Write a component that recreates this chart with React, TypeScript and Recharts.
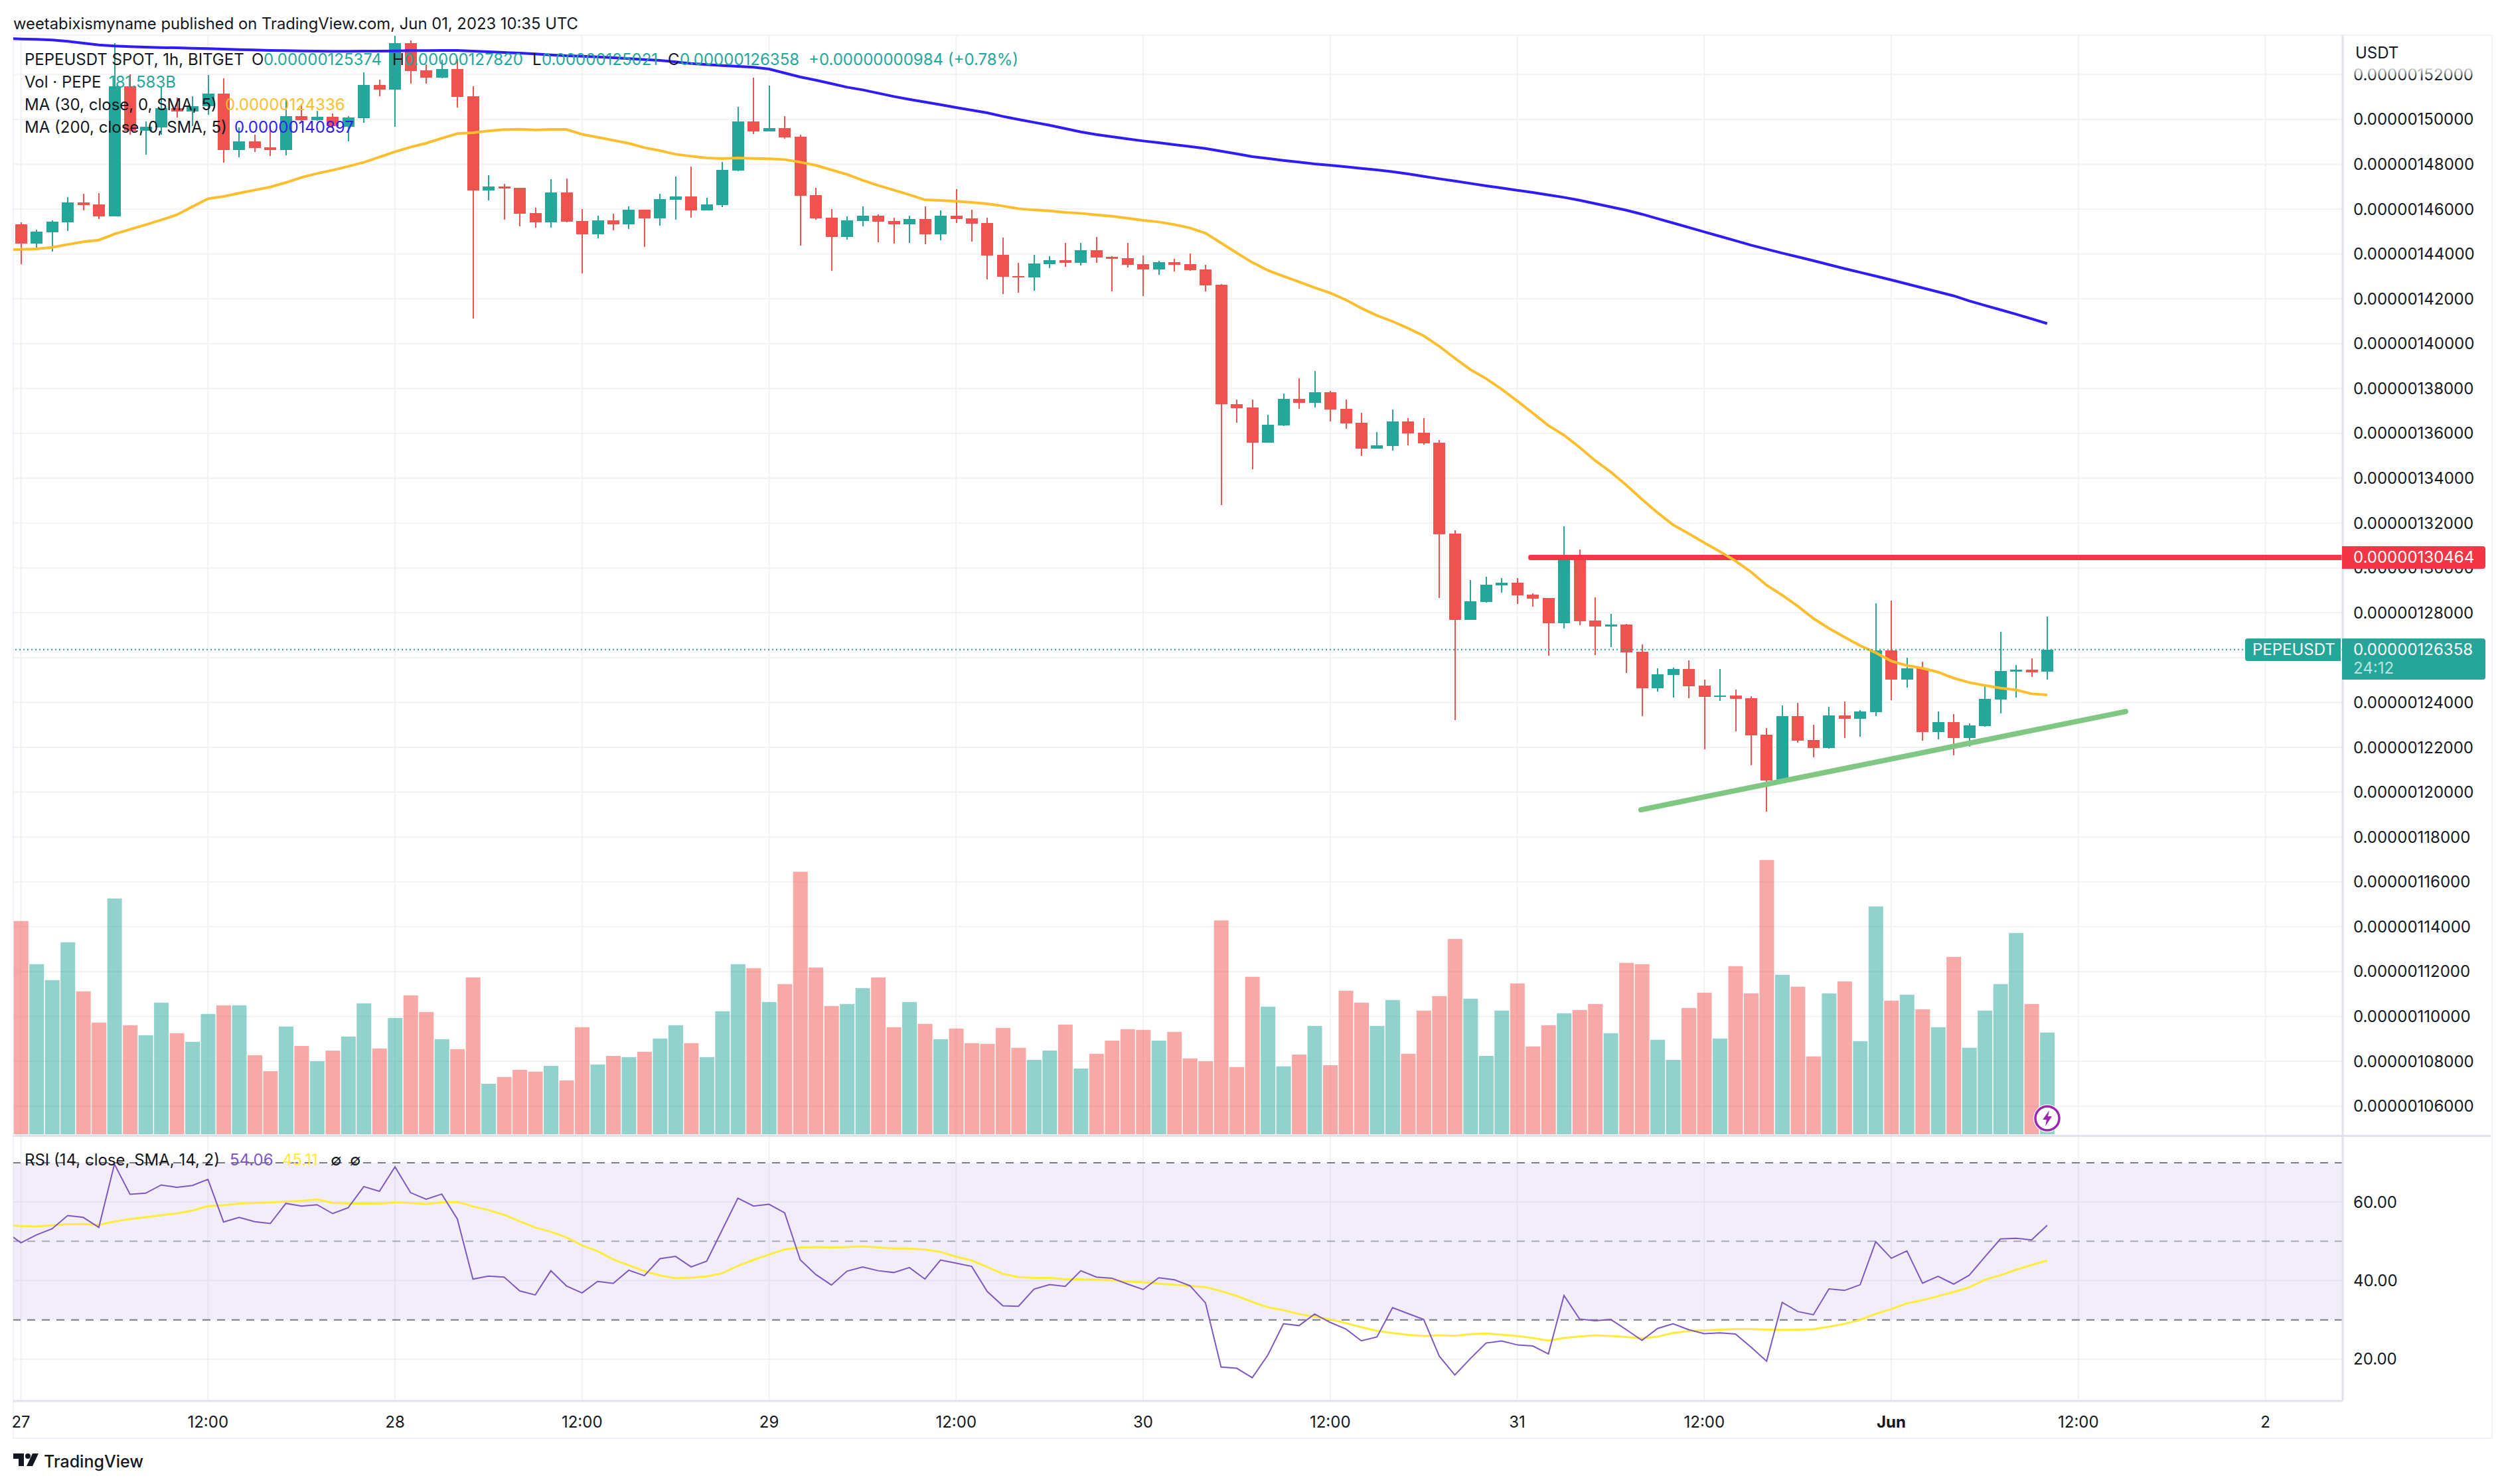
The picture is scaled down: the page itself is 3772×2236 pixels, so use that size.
import { Bar, CartesianGrid, Cell, ComposedChart, Line, ReferenceArea, ReferenceLine, XAxis, YAxis } from 'recharts'

// prices are in units of 1e-11 USDT, so 152000 reads 0.00000152000
const opens = [
    145310, 144471, 144975, 145419, 146287, 146208, 145685, 151476, 149503, 149650,
    150489, 150361, 150588, 151150, 148644, 149009, 148753, 148644, 150144, 149966,
    150114, 149670, 150065, 151525, 151338, 153399, 152186, 151870, 152245, 151032,
    146839, 147007, 146948, 145823, 145419, 146740, 145468, 144886, 145498, 145320,
    145971, 145586, 146415, 146563, 145941, 146178, 147717, 149907, 149463, 149611,
    149226, 146622, 145616, 144758, 145468, 145705, 145468, 145320, 145557, 144876,
    145705, 145586, 145379, 143959, 143012, 142952, 143544, 143722, 143603, 144166,
    143870, 143811, 143544, 143307, 143633, 143544, 143307, 142624, 137312, 137154,
    135591, 136350, 137539, 137369, 137833, 137097, 136474, 135330, 135444, 136531,
    136021, 135580, 131525, 127685, 128489, 129226, 129339, 128806, 128658, 127533,
    130404, 127652, 127385, 127474, 126261, 124633, 125225, 125491, 124752, 124248,
    124308, 124189, 122562, 120520, 123390, 122325, 121970, 123420, 123272, 123568,
    126320, 125018, 125521, 122680, 123124, 122413, 122946, 124130, 125373, 125462,
    125374,
]
const highs = [
    145409, 145083, 145488, 146523, 146671, 146701, 153389, 151998, 149917, 151426,
    150982, 151032, 151969, 151821, 149650, 149305, 149700, 150884, 150686, 150390,
    150262, 150144, 152097, 151772, 153715, 153518, 152462, 152659, 152679, 151476,
    147510, 147125, 146960, 146060, 147332, 147362, 146001, 145705, 145793, 146119,
    145985, 146681, 147451, 147895, 146504, 148102, 150558, 151860, 151505, 150144,
    149315, 146948, 146001, 145675, 146119, 145764, 145616, 145705, 146119, 145941,
    146888, 145971, 145616, 144728, 143603, 143959, 143899, 144491, 144491, 144758,
    143899, 144491, 143929, 143692, 143781, 144018, 143514, 142670, 137505, 137505,
    136825, 137777, 138456, 138773, 137890, 137505, 136916, 136055, 137063, 136678,
    136678, 135704, 131672, 129452, 129599, 129542, 129542, 128865, 128670, 131854,
    130819, 128688, 127948, 127504, 126586, 125521, 125551, 125876, 125018, 125491,
    124574, 124278, 122857, 123864, 123982, 123005, 123804, 124041, 123657, 128421,
    128540, 125995, 125817, 123597, 123479, 123065, 124781, 127149, 125669, 125965,
    127820,
]
const lows = [
    143554, 144225, 144116, 145024, 145951, 145557, 145685, 149325, 148437, 149325,
    150095, 149700, 150193, 148072, 148319, 148556, 148378, 148398, 149848, 149947,
    149650, 149029, 149848, 151032, 149670, 151594, 151594, 151831, 150529, 141117,
    146385, 145527, 145231, 145172, 145172, 145409, 143130, 144698, 145053, 145113,
    144314, 145261, 145527, 145616, 145930, 146089, 147700, 149345, 149450, 149138,
    144373, 145527, 143248, 144639, 145231, 144521, 144462, 144491, 144432, 144610,
    145379, 144550, 142863, 142212, 142272, 142360, 143367, 143426, 143485, 143603,
    142331, 143396, 142124, 143071, 143219, 143248, 142331, 132816, 136485, 134413,
    135580, 136327, 137097, 137165, 136531, 136214, 134990, 135320, 135228, 135466,
    135489, 128671, 123212, 127670, 128444, 128908, 128387, 128273, 126083, 127297,
    127445, 126113, 126468, 125314, 123390, 124485, 124219, 124189, 121910, 124071,
    122709, 121200, 119128, 120500, 122206, 121555, 121950, 122413, 122473, 123390,
    124100, 124663, 122295, 122355, 121644, 122029, 122930, 123509, 124219, 125136,
    125021,
]
const closes = [
    144471, 144994, 145428, 146287, 146188, 145685, 151476, 149503, 149670, 150489,
    150361, 150588, 151150, 148644, 149009, 148733, 148644, 150144, 149966, 150114,
    149700, 150085, 151525, 151338, 153399, 152166, 151870, 152245, 151012, 146839,
    147007, 146928, 145803, 145419, 146740, 145448, 144886, 145498, 145320, 145971,
    145586, 146444, 146563, 145941, 146208, 147747, 149907, 149463, 149611, 149197,
    146592, 145586, 144758, 145498, 145705, 145438, 145320, 145557, 144876, 145705,
    145557, 145350, 143929, 142982, 142952, 143574, 143722, 143603, 144166, 143840,
    143781, 143514, 143307, 143633, 143514, 143278, 142597, 137312, 137131, 135591,
    136384, 137539, 137369, 137833, 137063, 136452, 135330, 135466, 136531, 136010,
    135557, 131513, 127685, 128512, 129248, 129339, 128784, 128628, 127533, 130404,
    127622, 127385, 127474, 126231, 124633, 125255, 125491, 124722, 124248, 124308,
    124160, 122532, 120520, 123390, 122295, 121970, 123420, 123272, 123597, 126320,
    125018, 125521, 122680, 123124, 122413, 122976, 124160, 125403, 125462, 125343,
    126358,
]
// volume in billions of PEPE
const volumes = [
    381.0, 303.8, 275.3, 343.0, 255.2, 199.4, 421.3, 194.6, 176.8, 235.0,
    180.4, 165.0, 214.8, 230.2, 230.2, 141.2, 112.7, 192.3, 157.8, 130.5,
    149.5, 174.5, 233.8, 153.1, 207.7, 248.0, 218.4, 169.7, 151.9, 280.1,
    90.2, 102.1, 115.1, 111.6, 122.2, 96.1, 191.1, 124.6, 140.0, 137.7,
    147.2, 170.9, 194.6, 162.6, 137.7, 219.6, 303.8, 296.7, 236.2, 268.2,
    468.8, 297.9, 229.1, 232.6, 261.1, 280.1, 191.1, 236.2, 197.0, 169.7,
    188.7, 162.6, 161.4, 189.9, 154.3, 132.9, 149.5, 195.8, 117.5, 143.6,
    167.3, 187.5, 186.3, 167.3, 182.8, 135.3, 130.5, 382.2, 119.9, 281.3,
    227.9, 121.1, 142.4, 193.5, 123.4, 256.4, 235.0, 193.5, 239.7, 143.6,
    220.7, 246.9, 348.9, 242.1, 140.0, 220.7, 269.4, 156.7, 194.6, 216.0,
    221.9, 232.6, 180.4, 306.2, 303.8, 168.5, 132.9, 225.5, 252.8, 170.9,
    300.3, 251.6, 490.1, 284.8, 263.5, 138.9, 251.6, 273.0, 166.2, 407.1,
    238.5, 249.2, 223.1, 191.1, 316.9, 154.3, 220.7, 268.2, 359.6, 232.6,
    181.583,
]
// the four lines below start one bar earlier, at the bar cut off by the left edge
const ma30 = [
    144175, 144205, 144225, 144294, 144422, 144541, 144620, 144886, 145093, 145300, 145517,
    145744, 146109, 146464, 146563, 146711, 146849, 146987, 147184, 147411, 147589,
    147737, 147905, 148082, 148319, 148556, 148763, 148940, 149157, 149365, 149404,
    149483, 149542, 149562, 149532, 149552, 149552, 149335, 149207, 149069, 148930,
    148743, 148605, 148447, 148358, 148280, 148250, 148280, 148260, 148240, 148210,
    148092, 147954, 147747, 147549, 147283, 147056, 146849, 146642, 146415, 146385,
    146346, 146296, 146237, 146139, 146020, 145961, 145922, 145853, 145813, 145744,
    145685, 145596, 145498, 145428, 145310, 145162, 144925, 144491, 144047, 143623,
    143268, 143012, 142755, 142498, 142262, 141956, 141582, 141254, 140993, 140687,
    140348, 139883, 139351, 138841, 138445, 137969, 137448, 136905, 136350, 135919,
    135376, 134787, 134277, 133688, 133065, 132465, 131923, 131529, 131124, 130730,
    130315, 129822, 129230, 128786, 128293, 127750, 127307, 126912, 126537, 126221,
    125847, 125649, 125531, 125353, 125087, 124890, 124761, 124643, 124564, 124387,
    124336,
]
const ma200 = [
    153606, 153587, 153567, 153537, 153478, 153399, 153320, 153271, 153241, 153222, 153202,
    153192, 153172, 153153, 153133, 153113, 153094, 153074, 153064, 153054, 153044,
    153034, 153034, 153044, 153044, 153054, 153064, 153064, 153074, 153074, 153044,
    153015, 152985, 152955, 152916, 152877, 152837, 152817, 152788, 152748, 152709,
    152669, 152630, 152561, 152492, 152442, 152403, 152364, 152324, 152245, 152068,
    151890, 151752, 151594, 151436, 151318, 151170, 151022, 150894, 150775, 150657,
    150529, 150410, 150292, 150134, 149996, 149868, 149739, 149591, 149443, 149325,
    149226, 149128, 149039, 148960, 148871, 148792, 148704, 148585, 148467, 148339,
    148260, 148171, 148092, 148013, 147954, 147885, 147816, 147747, 147668, 147569,
    147461, 147352, 147253, 147145, 147036, 146938, 146839, 146740, 146632, 146523,
    146395, 146247, 146099, 145951, 145774, 145576, 145379, 145182, 144984, 144787,
    144590, 144392, 144215, 144037, 143870, 143702, 143524, 143347, 143179, 143012,
    142844, 142666, 142489, 142311, 142134, 141907, 141709, 141512, 141315, 141107,
    140897,
]
const rsi = [
    52.5, 49.61, 51.63, 53.19, 56.54, 56.08, 53.54, 69.64, 61.96, 62.25, 64.33,
    63.75, 64.21, 65.77, 54.92, 56.08, 54.98, 54.52, 59.65, 58.96, 59.31,
    57.06, 58.56, 63.93, 62.71, 68.95, 62.37, 60.69, 62.02, 55.67, 40.38,
    41.13, 40.9, 37.38, 36.34, 42.51, 38.64, 36.86, 39.8, 39.28, 42.63,
    41.24, 45.57, 46.15, 43.49, 44.94, 52.96, 60.98, 58.96, 59.42, 57.23,
    45.28, 41.53, 38.88, 42.4, 43.44, 42.51, 42.05, 43.32, 40.38, 45.23,
    44.42, 43.61, 37.2, 33.57, 33.45, 37.84, 38.99, 38.53, 42.51, 40.9,
    40.61, 39.11, 37.72, 40.72, 40.2, 38.7, 34.32, 17.98, 17.69, 15.27,
    21.04, 29.0, 28.54, 31.49, 29.35, 27.68, 24.68, 25.66, 33.1, 31.6,
    30.1, 20.75, 15.96, 20.17, 24.1, 24.62, 23.64, 23.35, 21.33, 36.22,
    30.22, 29.76, 30.1, 27.5, 24.79, 27.79, 29.0, 27.5, 26.47, 26.7,
    26.41, 23.06, 19.48, 34.43, 32.12, 31.31, 37.89, 37.49, 38.93, 49.9,
    45.69, 47.53, 39.34, 41.07, 39.11, 41.36, 46.03, 50.59, 50.77, 50.36,
    54.06,
]
const rsiMa = [
    54.06, 53.88, 53.77, 54.06, 54.34, 54.4, 54.17, 55.04, 55.67, 56.13, 56.65,
    57.12, 57.81, 58.96, 59.19, 59.6, 59.77, 59.89, 60.12, 60.29, 60.69,
    59.77, 59.6, 59.65, 59.54, 59.94, 59.77, 59.48, 59.94, 60.0, 58.9,
    57.92, 56.77, 55.09, 53.48, 52.44, 51.0, 48.98, 47.48, 45.4, 43.9,
    42.4, 41.3, 40.61, 40.78, 41.07, 41.88, 43.72, 45.28, 46.61, 47.94,
    48.4, 48.51, 48.46, 48.51, 48.69, 48.46, 48.17, 48.17, 47.88, 47.3,
    46.09, 45.11, 43.49, 41.7, 40.9, 40.66, 40.66, 40.38, 40.32, 40.2,
    40.09, 39.74, 39.57, 39.22, 38.93, 38.59, 38.36, 37.32, 36.11, 34.55,
    33.22, 32.47, 31.49, 30.85, 30.1, 29.18, 28.14, 27.22, 26.64, 26.18,
    25.89, 26.12, 25.95, 26.35, 26.52, 26.23, 25.89, 25.37, 24.73, 25.37,
    25.77, 26.06, 25.89, 25.66, 25.31, 25.72, 26.64, 27.16, 27.33, 27.5,
    27.68, 27.68, 27.56, 27.45, 27.5, 27.62, 28.26, 29.0, 29.99, 31.54,
    32.76, 34.2, 35.01, 36.05, 37.09, 38.3, 40.2, 41.36, 42.74, 43.96,
    45.11,
]

const priceTicks = [
    106000, 108000, 110000, 112000, 114000, 116000, 118000, 120000, 122000, 124000, 126000, 128000,
    130000, 132000, 134000, 136000, 138000, 140000, 142000, 144000, 146000, 148000, 150000, 152000,
]
const rsiTicks = [20, 40, 60]
const rsiBands = [70, 50, 30]
const timeTicks = [0, 12, 24, 36, 48, 60, 72, 84, 96, 108, 120, 132, 144]
const timeLabels = ['27', '12:00', '28', '12:00', '29', '12:00', '30', '12:00', '31', '12:00', 'Jun', '12:00', '2']

// drawings on the chart
const resistance = [{ i: 96.87, price: 130464 }, { i: 148.96, price: 130464 }]
const support = [{ i: 103.94, price: 119217 }, { i: 135.03, price: 123597 }]

const lastClose = 126358

const table = ma30.map((_, j) => {
    const c = j - 1
    return {
        i: c,
        open: opens[c],
        high: highs[c],
        low: lows[c],
        close: closes[c],
        range: c < 0 ? null : [lows[c], highs[c]],
        volume: volumes[c],
        ma30: ma30[j],
        ma200: ma200[j],
        rsi: rsi[j],
        rsiMa: rsiMa[j],
    }
})

const UP = '#26a69a'
const DOWN = '#ef5350'
const FONT = 'Inter, "Liberation Sans", sans-serif'
const TEXT = '#131722'
const GRID = '#f2f2f4'
const xDomain: [number, number] = [-0.49, 148.96]

function Candle(props: any) {
    const { x, y, width, height, payload } = props
    if (!payload || payload.open == null) return null
    const perUnit = height / (payload.high - payload.low)
    const top = y + (payload.high - Math.max(payload.open, payload.close)) * perUnit
    const bottom = y + (payload.high - Math.min(payload.open, payload.close)) * perUnit
    const color = payload.close >= payload.open ? UP : DOWN
    return (
        <g shapeRendering="crispEdges">
            <rect x={x + width / 2 - 1} y={y} width={2} height={height} fill={color} />
            <rect x={x} y={top} width={width} height={Math.max(bottom - top, 2)} fill={color} />
        </g>
    )
}

function TimeTick(props: any) {
    const { x, y, payload } = props
    const label = timeLabels[timeTicks.indexOf(payload.value)]
    return (
        <text x={x} y={y + 29} textAnchor="middle" dominantBaseline="central" fontFamily={FONT} fontSize={24}
            fontWeight={label === 'Jun' ? 700 : 400} fill={TEXT}>
            {label}
        </text>
    )
}

function Label({ left, top, color = TEXT, size = 24, children }: any) {
    return (
        <span style={{ position: 'absolute', left, top, color, fontSize: size, lineHeight: '30px', whiteSpace: 'nowrap' }}>
            {children}
        </span>
    )
}

function Box({ left, top, width, height, color, style }: any) {
    return <div style={{ position: 'absolute', left, top, width, height, background: color, ...style }} />
}

export default function App() {
    return (
        <div style={{ position: 'absolute', left: 0, top: 0, width: 3772, height: 2236, background: '#fff', fontFamily: FONT, fontSize: 24, overflow: 'hidden' }}>
            <div style={{ position: 'absolute', left: 19, top: 52, width: 3732, height: 2112, border: '2px solid #f0f3fa' }} />

            <div style={{ position: 'absolute', left: 0, top: 0 }}>
                <ComposedChart width={3752} height={1711} data={table} margin={{ top: 53, right: 0, bottom: 0, left: 20 }}>
                    <CartesianGrid xAxisId="candle" yAxisId="price" stroke={GRID} strokeWidth={2}
                        horizontalValues={priceTicks} verticalValues={timeTicks} />
                    <XAxis xAxisId="candle" dataKey="i" type="number" domain={xDomain} allowDataOverflow hide />
                    <XAxis xAxisId="vol" dataKey="i" type="number" domain={xDomain} allowDataOverflow hide />
                    {/* drawings get their own axis, their x values must not shrink the candle band */}
                    <XAxis xAxisId="draw" dataKey="i" type="number" domain={xDomain} allowDataOverflow hide />
                    <YAxis yAxisId="price" orientation="right" width={223} domain={[104689, 153755]} allowDataOverflow
                        ticks={priceTicks} interval={0} tickLine={false} tickSize={0} tickMargin={16}
                        axisLine={{ stroke: '#e0e3eb', strokeWidth: 3 }}
                        tick={{ fill: TEXT, fontSize: 24, fontFamily: FONT, textAnchor: 'start' }}
                        tickFormatter={(v: number) => (v / 1e11).toFixed(11)} />
                    <YAxis yAxisId="vol" hide domain={[-2.4, 1963.5]} allowDataOverflow />

                    <Bar xAxisId="vol" yAxisId="vol" dataKey="volume" barSize={22} isAnimationActive={false}>
                        {table.map((row) => (
                            <Cell key={row.i} fill={row.close >= row.open ? UP : DOWN} fillOpacity={0.5} />
                        ))}
                    </Bar>
                    <Line xAxisId="draw" yAxisId="price" data={resistance} dataKey="price" stroke="#f23645" strokeWidth={8}
                        strokeLinecap="round" dot={false} isAnimationActive={false} />
                    <Line xAxisId="draw" yAxisId="price" data={support} dataKey="price" stroke="#81c784" strokeWidth={8}
                        strokeLinecap="round" dot={false} isAnimationActive={false} />
                    <Line xAxisId="candle" yAxisId="price" dataKey="ma200" stroke="#2e1cff" strokeWidth={4} dot={false} isAnimationActive={false} />
                    <Line xAxisId="candle" yAxisId="price" dataKey="ma30" stroke="#fdbe2d" strokeWidth={4} dot={false} isAnimationActive={false} />
                    <Bar xAxisId="candle" yAxisId="price" dataKey="range" barSize={18} shape={<Candle />} isAnimationActive={false} />
                    <ReferenceLine xAxisId="candle" yAxisId="price" y={lastClose} stroke={UP} strokeWidth={2} strokeDasharray="2 4" />
                </ComposedChart>
            </div>

            <div style={{ position: 'absolute', left: 0, top: 1712 }}>
                <ComposedChart width={3752} height={453} data={table} margin={{ top: 0, right: 0, bottom: 0, left: 20 }}>
                    <CartesianGrid stroke={GRID} strokeWidth={2} horizontalValues={rsiTicks} verticalValues={timeTicks} />
                    <XAxis dataKey="i" type="number" domain={xDomain} allowDataOverflow height={54}
                        ticks={timeTicks} interval={0} tickLine={false} tickSize={0}
                        axisLine={{ stroke: '#e0e3eb', strokeWidth: 3 }} tick={<TimeTick />} />
                    <YAxis orientation="right" width={223} domain={[9.34, 76.74]} allowDataOverflow
                        ticks={rsiTicks} interval={0} tickLine={false} tickSize={0} tickMargin={16}
                        axisLine={{ stroke: '#e0e3eb', strokeWidth: 3 }}
                        tick={{ fill: TEXT, fontSize: 24, fontFamily: FONT, textAnchor: 'start' }}
                        tickFormatter={(v: number) => v.toFixed(2)} />
                    <ReferenceArea y1={30} y2={70} fill="#7e57c2" fillOpacity={0.1} stroke="none" />
                    {rsiBands.map((v) => (
                        <ReferenceLine key={v} y={v} stroke="#787b86" strokeOpacity={v === 50 ? 0.6 : 1} strokeWidth={2} strokeDasharray="12 10" />
                    ))}
                    <Line dataKey="rsiMa" stroke="#ffeb3b" strokeWidth={3} dot={false} isAnimationActive={false} />
                    <Line dataKey="rsi" stroke="#7e57c2" strokeWidth={2} dot={false} isAnimationActive={false} />
                </ComposedChart>
            </div>

            <Box left={20} top={1710} width={3732} height={3} color="#e0e3eb" />

            {/* header and pane legends */}
            <Label left={20} top={21} size={23.8}>weetabixismyname published on TradingView.com, Jun 01, 2023 10:35 UTC</Label>
            <Label left={37} top={75}>PEPEUSDT SPOT, 1h, BITGET</Label>
            <Label left={379} top={75}>O</Label>
            <Label left={397} top={75} color={UP}>0.00000125374</Label>
            <Label left={591} top={75}>H</Label>
            <Label left={609} top={75} color={UP}>0.00000127820</Label>
            <Label left={802} top={75}>L</Label>
            <Label left={816} top={75} color={UP}>0.00000125021</Label>
            <Label left={1006} top={75}>C</Label>
            <Label left={1024} top={75} color={UP}>0.00000126358</Label>
            <Label left={1218} top={75} color={UP}>+0.00000000984 (+0.78%)</Label>
            <Label left={37} top={109}>Vol · PEPE</Label>
            <Label left={164} top={109} color={UP}>181.583B</Label>
            <Label left={37} top={143}>MA (30, close, 0, SMA, 5)</Label>
            <Label left={339} top={143} color="#fdbe2d">0.00000124336</Label>
            <Label left={37} top={177}>MA (200, close, 0, SMA, 5)</Label>
            <Label left={353} top={177} color="#2e1cff">0.00000140897</Label>
            <Label left={37} top={1733}>RSI (14, close, SMA, 14, 2)</Label>
            <Label left={346} top={1733} color="#7e57c2">54.06</Label>
            <Label left={425} top={1733} color="#ffeb3b">45.11</Label>
            <Label left={498} top={1733}>∅</Label>
            <Label left={527} top={1733}>∅</Label>

            {/* price scale */}
            <Box left={3532} top={55} width={218} height={64} style={{ background: 'linear-gradient(#fff 70%, rgba(255,255,255,0))' }} />
            <Label left={3548} top={65}>USDT</Label>
            <Box left={3528} top={823} width={216} height={34} color="#f23645" style={{ borderRadius: '0 4px 4px 0' }} />
            <Label left={3545} top={825} color="#fff">0.00000130464</Label>
            <Box left={3382} top={962} width={144} height={34} color={UP} style={{ borderRadius: '4px 0 0 4px' }} />
            <Label left={3393} top={964} color="#fff">PEPEUSDT</Label>
            <Box left={3528} top={962} width={216} height={62} color={UP} style={{ borderRadius: '0 4px 4px 0' }} />
            <Label left={3545} top={964} color="#fff">0.00000126358</Label>
            <Label left={3545} top={992} color="rgba(255,255,255,0.7)">24:12</Label>

            {/* dividend marker on the last bar */}
            <svg style={{ position: 'absolute', left: 3060, top: 1661 }} width={48} height={48}>
                <circle cx={24} cy={24} r={21} fill="#fff" />
                <circle cx={24} cy={24} r={18} fill="#fff" stroke="#9c27b0" strokeWidth={3.5} />
                <path d="M27 12 L17 26 L23 26 L21 36 L31 21 L25 21 Z" fill="#9c27b0" />
            </svg>

            {/* footer logo */}
            <svg style={{ position: 'absolute', left: 20, top: 2190 }} width={40} height={20}>
                <path d="M0 0 H16 V19 H8 V8 H0 Z" fill={TEXT} />
                <circle cx={22} cy={4} r={4} fill={TEXT} />
                <path d="M29 0 H38 L29 19 H20 Z" fill={TEXT} />
            </svg>
            <span style={{ position: 'absolute', left: 66, top: 2186, lineHeight: '32px', fontSize: 25, fontWeight: 500, color: TEXT }}>TradingView</span>
        </div>
    )
}
